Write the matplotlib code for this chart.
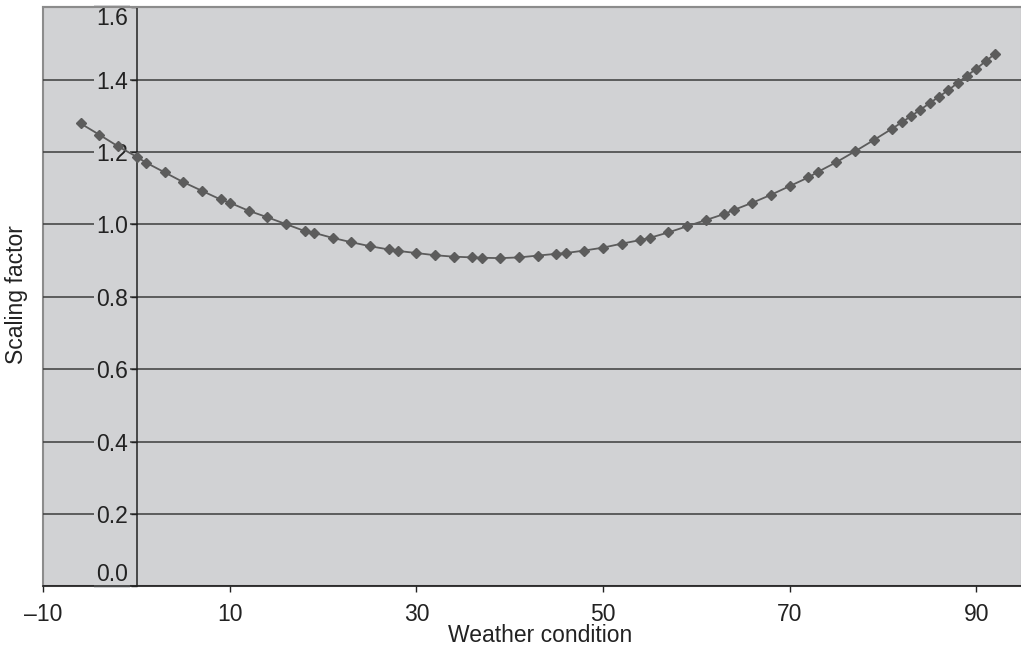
import matplotlib
matplotlib.use("Agg")
import matplotlib.pyplot as plt

plt.rcParams['font.family'] = ['Liberation Sans', 'DejaVu Sans']

# Values
weather = [-6, -4, -2, 0, 1, 3, 5, 7, 9, 10, 12, 14, 16, 18, 19, 21, 23, 25, 27, 28,
           30, 32, 34, 36, 37, 39, 41, 43, 45, 46, 48, 50, 52, 54, 55, 57, 59, 61, 63, 64,
           66, 68, 70, 72, 73, 75, 77, 79, 81, 82, 83, 84, 85, 86, 87, 88, 89, 90, 91, 92]
scaling = [1.279, 1.248, 1.216, 1.187, 1.171, 1.144, 1.117, 1.093, 1.069, 1.060,
           1.038, 1.020, 1.001, 0.982, 0.977, 0.963, 0.951, 0.940, 0.931, 0.927,
           0.921, 0.915, 0.911, 0.909, 0.908, 0.907, 0.909, 0.914, 0.919, 0.921,
           0.928, 0.936, 0.947, 0.957, 0.963, 0.978, 0.995, 1.012, 1.029, 1.040,
           1.060, 1.082, 1.106, 1.130, 1.145, 1.172, 1.202, 1.233, 1.265, 1.282,
           1.299, 1.317, 1.335, 1.353, 1.371, 1.391, 1.411, 1.430, 1.451, 1.471]

xticks = [-10, 10, 30, 50, 70, 90]
xtick_labels = ['\u201310', '10', '30', '50', '70', '90']
yticks = [0.0, 0.2, 0.4, 0.6, 0.8, 1.0, 1.2, 1.4, 1.6]
ytick_labels = ['0.0', '0.2', '0.4', '0.6', '0.8', '1.0', '1.2', '1.4', '1.6']

bg = '#d1d2d4'

fig = plt.figure(figsize=(10.21, 6.5), dpi=100)
ax = fig.add_axes([0.0424, 0.0978, 0.9586, 0.891])
ax.set_facecolor(bg)
ax.patch.set_edgecolor('#8c8c8c')
ax.patch.set_linewidth(1.5)

ax.plot(weather, scaling, color='#5c5c5c', lw=1.3, marker='D', ms=5.6,
        markeredgecolor='#5c5c5c', markerfacecolor='#5c5c5c', zorder=3, clip_on=False)

ax.set_xlim(-10, 94.9)
ax.set_ylim(0, 1.6)

ax.grid(axis='y', color='#3c3c3c', lw=1.1)
ax.set_axisbelow(True)

# y axis sits at x = 0
ax.spines['left'].set_position(('data', 0))
ax.spines['left'].set_color('#222222')
ax.spines['left'].set_linewidth(1.1)
ax.spines['right'].set_visible(False)
ax.spines['top'].set_color('#8c8c8c')
ax.spines['top'].set_linewidth(1.5)
ax.spines['bottom'].set_color('#222222')
ax.spines['bottom'].set_linewidth(1.1)

ax.set_xticks(xticks, labels=xtick_labels)
ax.set_yticks(yticks, labels=ytick_labels)
ax.tick_params(axis='x', direction='out', length=4, width=1, color='#222222',
               pad=8, labelsize=16.5, labelcolor='#222222')
ax.tick_params(axis='y', direction='out', length=4, width=1, color='#222222',
               pad=2, labelsize=16.5, labelcolor='#222222')
for lab in ax.get_yticklabels():
    lab.set_bbox(dict(facecolor=bg, edgecolor='none', pad=1.5))
ylabs = ax.get_yticklabels()
ylabs[0].set_va('bottom')
ylabs[-1].set_va('top')

fig.text(16 / 1021, 1 - 295 / 650, 'Scaling factor', rotation=90, ha='center', va='center',
         fontsize=16.5, color='#222222')
fig.text(540 / 1021, 1 - 636 / 650, 'Weather condition', ha='center', va='center',
         fontsize=16.5, color='#222222')

fig.savefig('out.png', dpi=100, facecolor='white')
